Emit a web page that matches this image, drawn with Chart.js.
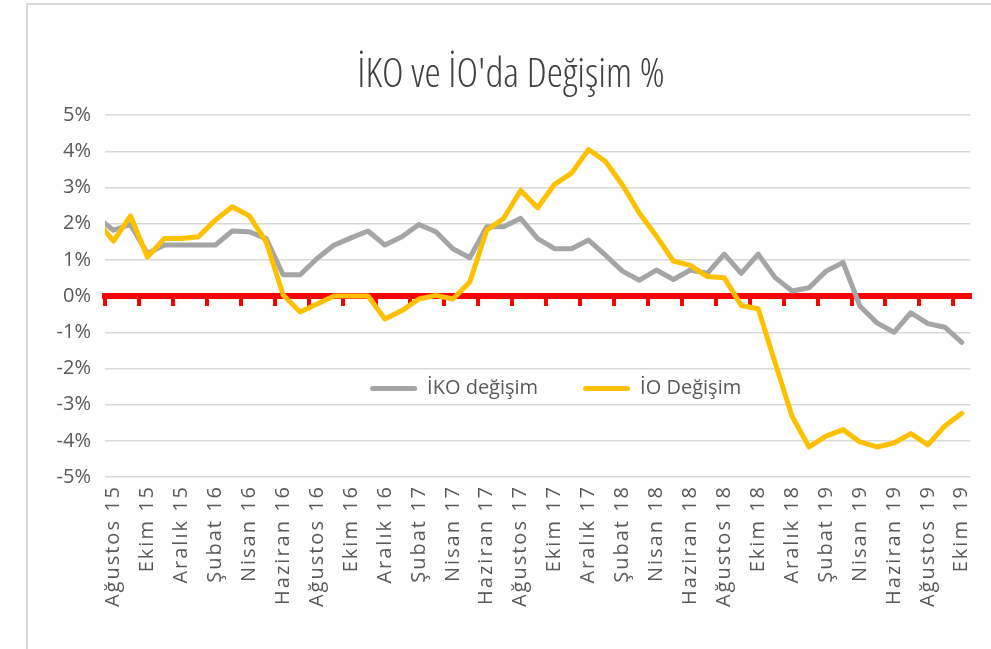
<!DOCTYPE html>
<html>
<head>
<meta charset="utf-8">
<script src="https://cdn.jsdelivr.net/npm/chart.js@4/dist/chart.umd.min.js"></script>
<style>
  html, body { margin: 0; padding: 0; background: #fff; overflow: hidden; width: 991px; height: 649px; }
  #wrap { position: absolute; left: 26px; top: 3px; border-left: 2px solid #d9d9d9; border-top: 2px solid #d9d9d9; width: 966px; height: 646px; }
  canvas { display: block; }
</style>
</head>
<body>
<div id="wrap"><canvas id="c" width="966" height="644" style="width:966px;height:644px"></canvas></div>
<script>
// Month labels (the first one lies just before the visible range; the chart's line enters from it)
const months = [
  'Temmuz 15',
  'Ağustos 15','Eylül 15','Ekim 15','Kasım 15','Aralık 15',
  'Ocak 16','Şubat 16','Mart 16','Nisan 16','Mayıs 16','Haziran 16','Temmuz 16','Ağustos 16','Eylül 16','Ekim 16','Kasım 16','Aralık 16',
  'Ocak 17','Şubat 17','Mart 17','Nisan 17','Mayıs 17','Haziran 17','Temmuz 17','Ağustos 17','Eylül 17','Ekim 17','Kasım 17','Aralık 17',
  'Ocak 18','Şubat 18','Mart 18','Nisan 18','Mayıs 18','Haziran 18','Temmuz 18','Ağustos 18','Eylül 18','Ekim 18','Kasım 18','Aralık 18',
  'Ocak 19','Şubat 19','Mart 19','Nisan 19','Mayıs 19','Haziran 19','Temmuz 19','Ağustos 19','Eylül 19','Ekim 19'
];

// İKO değişim (%)
const ikoDegisim = [
  2.20,
  1.82, 1.98, 1.18, 1.41, 1.41,
  1.41, 1.41, 1.80, 1.78, 1.59, 0.59, 0.59, 1.04, 1.41, 1.61, 1.80, 1.41,
  1.64, 1.98, 1.78, 1.31, 1.06, 1.92, 1.92, 2.15, 1.59, 1.31, 1.31, 1.55,
  1.13, 0.69, 0.44, 0.72, 0.46, 0.72, 0.63, 1.16, 0.63, 1.16, 0.51, 0.14,
  0.23, 0.69, 0.93, -0.28, -0.74, -1.00, -0.46, -0.76, -0.86, -1.28
];

// İO Değişim (%)
const ioDegisim = [
  2.10,
  1.52, 2.22, 1.08, 1.59, 1.59,
  1.64, 2.10, 2.47, 2.22, 1.50, 0.03, -0.44, -0.22, 0.00, 0.00, 0.00, -0.63,
  -0.40, -0.08, 0.02, -0.08, 0.39, 1.82, 2.15, 2.92, 2.44, 3.09, 3.40, 4.05,
  3.72, 3.07, 2.29, 1.66, 0.97, 0.85, 0.54, 0.51, -0.26, -0.35, -1.85, -3.33,
  -4.17, -3.87, -3.69, -4.03, -4.17, -4.06, -3.80, -4.11, -3.59, -3.24
];

const firstShown = 'Ağustos 15';
const lastShown = 'Ekim 19';
const seriesNames = ['İKO değişim', 'İO Değişim'];
const titleText = "İKO ve İO'da Değişim %";

const firstIdx = months.indexOf(firstShown);
const textColor = '#595959';
const baseFont = { family: "'Open Sans', 'Noto Sans', sans-serif", size: 20 };
const plotBottom = 472;     // canvas px where the -5% line sits
const legendReserve = 140;  // legend box is pushed below the canvas, then moved into the plot
const legendPad = 45;

const layoutTweaks = {
  id: 'layoutTweaks',
  afterLayout(chart) {
    // legend sits inside the plot, between the -2% and -3% lines
    const lg = chart.legend;
    const ys = chart.scales.y;
    const ca = chart.chartArea;
    const h = lg.height, w = lg.width;
    const cy = ys.getPixelForValue(-2.5);
    const cx = (ca.left + ca.right) / 2 + 18;
    lg.top = cy - legendPad - 8; lg.bottom = lg.top + h;
    lg.left = cx - w / 2; lg.right = cx + w / 2;
    // slightly spaced month labels
    const xs = chart.scales.x;
    if (!xs._spaced) {
      const orig = xs.drawLabels;
      xs.drawLabels = function (area) {
        const c = this.ctx;
        const prev = c.letterSpacing;
        c.letterSpacing = '2px';
        orig.call(this, area);
        c.letterSpacing = prev || '0px';
      };
      xs._spaced = true;
    }
  }
};

new Chart(document.getElementById('c'), {
  type: 'line',
  data: {
    labels: months,
    datasets: [
      {
        label: seriesNames[0],
        data: ikoDegisim,
        borderColor: '#A5A5A5',
        backgroundColor: '#A5A5A5',
        borderWidth: 5,
        pointRadius: 0,
        tension: 0,
        borderJoinStyle: 'round',
        borderCapStyle: 'round',
        order: 2,
        clip: { left: 0, top: false, right: false, bottom: false }
      },
      {
        label: seriesNames[1],
        data: ioDegisim,
        borderColor: '#FFC000',
        backgroundColor: '#FFC000',
        borderWidth: 5,
        pointRadius: 0,
        tension: 0,
        borderJoinStyle: 'round',
        borderCapStyle: 'round',
        order: 1,
        clip: { left: 0, top: false, right: false, bottom: false }
      }
    ]
  },
  options: {
    responsive: false,
    animation: false,
    devicePixelRatio: 1,
    layout: { padding: { left: 21, right: 21, top: 0, bottom: -legendReserve } },
    plugins: {
      title: {
        display: true,
        text: titleText,
        color: '#404040',
        font: { family: "'Open Sans', sans-serif", size: 41, weight: '300 condensed' },
        padding: { top: 46, bottom: 15 }
      },
      legend: {
        display: true,
        position: 'bottom',
        align: 'center',
        labels: {
          color: textColor,
          font: baseFont,
          boxWidth: 47,
          boxHeight: 5,
          padding: legendPad,
          useBorderRadius: true,
          borderRadius: 2.5,
          sort: (a, b) => a.datasetIndex - b.datasetIndex,
          generateLabels(chart) {
            const items = Chart.defaults.plugins.legend.labels.generateLabels(chart);
            items.forEach(it => { it.fillStyle = it.strokeStyle; it.lineWidth = 0; });
            return items;
          }
        }
      },
      tooltip: { enabled: false }
    },
    scales: {
      x: {
        type: 'category',
        min: firstShown,
        max: lastShown,
        offset: true,
        position: 'bottom',
        border: { display: false },
        grid: { display: false, drawTicks: false },
        afterFit(scale) {
          const lg = scale.chart.legend;
          const lh = lg ? lg.height : 0;
          scale.height = Math.max(20, scale.chart.height + legendReserve - plotBottom - lh);
        },
        ticks: {
          autoSkip: false,
          maxRotation: 90,
          minRotation: 90,
          padding: 8,
          color: textColor,
          font: baseFont,
          callback(value) {
            return ((value - firstIdx) % 2 === 0) ? this.getLabelForValue(value) : '';
          }
        }
      },
      x2: {
        type: 'category',
        min: firstShown,
        max: lastShown,
        offset: true,
        position: { y: 0 },
        border: { display: true, color: '#FF0000', width: 6 },
        grid: {
          display: true,
          drawOnChartArea: false,
          drawTicks: true,
          offset: true,
          tickLength: 7,
          lineWidth: 4,
          color: (ctx) => (ctx.index % 2 === 0 ? '#FF0000' : 'rgba(0,0,0,0)')
        },
        ticks: { display: false, autoSkip: false }
      },
      y: {
        min: -5,
        max: 5,
        border: { display: false },
        grid: { color: '#D9D9D9', lineWidth: 1.5, drawTicks: false },
        afterFit(scale) { scale.width = 56; },
        ticks: {
          stepSize: 1,
          padding: 14,
          color: textColor,
          font: baseFont,
          callback: (v) => v + '%'
        }
      }
    }
  },
  plugins: [layoutTweaks]
});
</script>
</body>
</html>
